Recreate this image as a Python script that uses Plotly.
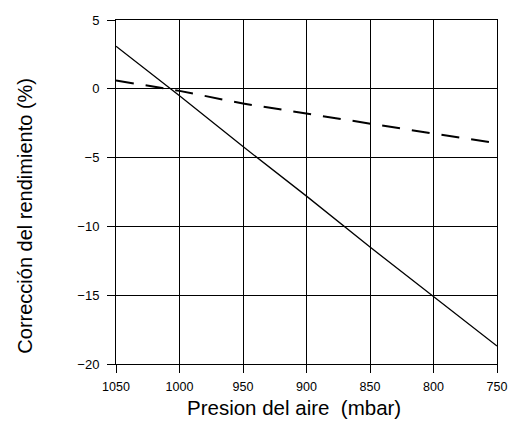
import plotly.graph_objects as go

pressure = [1050, 1000, 950, 900, 850, 800, 750]
solid_corr = [3.1, -0.5, -4.2, -7.8, -11.5, -15.1, -18.7]
dashed_corr = [0.6, -0.15, -1.07, -1.8, -2.58, -3.26, -3.95]

x_ticks = [1050, 1000, 950, 900, 850, 800, 750]
y_ticks = [5, 0, -5, -10, -15, -20]

x_title = "Presion del aire  (mbar)"
y_title = "Corrección del rendimiento (%)"

fig = go.Figure()
fig.add_trace(go.Scatter(x=pressure, y=solid_corr, mode="lines",
                         line=dict(color="black", width=1.3), showlegend=False))
fig.add_trace(go.Scatter(x=pressure, y=dashed_corr, mode="lines",
                         line=dict(color="black", width=2, dash="18px,12px"), showlegend=False))

axis_common = dict(showgrid=True, gridcolor="black", gridwidth=1,
                   showline=True, linecolor="black", linewidth=1, mirror=True,
                   ticks="outside", ticklen=8, tickcolor="black", zeroline=False,
                   automargin=False, ticklabeloverflow="allow")

fig.update_layout(
    width=509, height=412,
    margin=dict(l=108, r=20, t=12, b=56),
    paper_bgcolor="white", plot_bgcolor="white",
    xaxis=dict(range=[1050, 750], tickvals=x_ticks, ticklabelstandoff=3,
               tickfont=dict(family="Liberation Sans, Arial", size=12.5, color="black"),
               **axis_common),
    yaxis=dict(range=[-20, 5], tickvals=y_ticks, ticklabelstandoff=5,
               tickfont=dict(family="Liberation Sans, Arial", size=13, color="black"),
               **axis_common),
    annotations=[
        dict(text=x_title, xref="paper", yref="paper", x=0.466, y=-0.127,
             xanchor="center", yanchor="middle", showarrow=False,
             font=dict(family="Liberation Sans, Arial", size=20.5, color="black")),
        dict(text=y_title, xref="paper", yref="paper", x=-0.239, y=0.431,
             xanchor="center", yanchor="middle", showarrow=False, textangle=-90,
             font=dict(family="Liberation Sans, Arial", size=20, color="black")),
    ],
)

fig.write_html("out.html")
